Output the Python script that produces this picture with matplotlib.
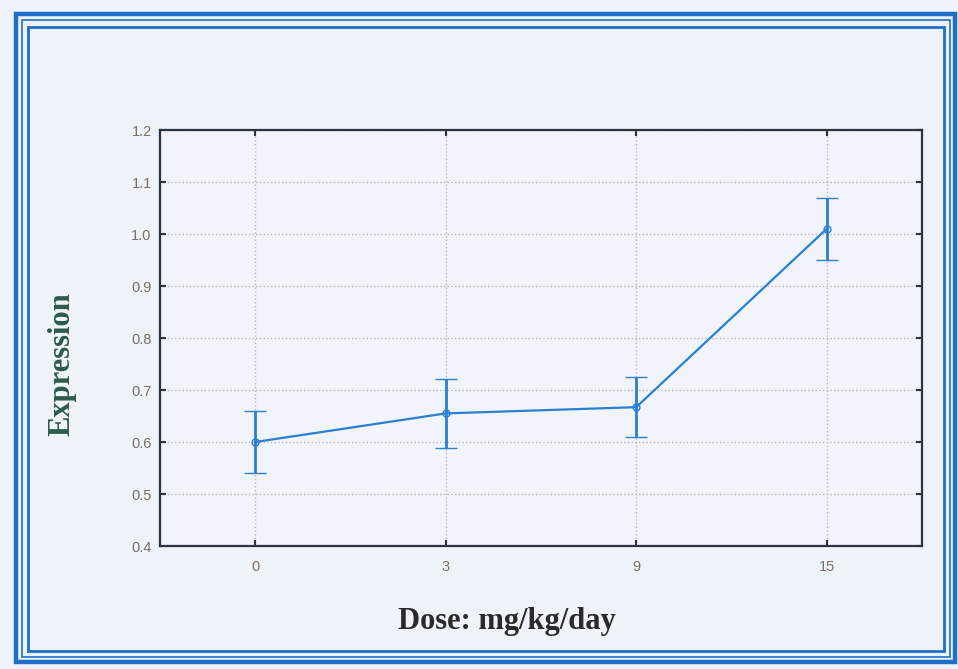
import numpy as np
import matplotlib.pyplot as plt
from matplotlib.patches import Rectangle

doses = ['0', '3', '9', '15']
expression = [0.600, 0.655, 0.667, 1.010]
err = [0.060, 0.066, 0.058, 0.060]

bg = '#eef2f9'
blue = '#2a7fd0'

fig = plt.figure(figsize=(9.58, 6.69), dpi=100)
fig.patch.set_facecolor(bg)

# decorative triple frame, in pixel coords
W, H = 958, 669
for x0, y0, x1, y1, lw in [(16, 14, 955, 662, 3.2), (22, 20, 950, 657, 1.2), (28, 27, 944, 651, 2.0)]:
    fig.patches.append(Rectangle((x0 / W, 1 - y1 / H), (x1 - x0) / W, (y1 - y0) / H,
                                 transform=fig.transFigure, fill=False,
                                 edgecolor='#1f6fc8', lw=lw))

ax = fig.add_axes([160 / W, 1 - 546 / H, (922 - 160) / W, (546 - 130) / H])
ax.set_facecolor('#f1f4fa')

x = np.arange(len(doses))
ax.errorbar(x, expression, yerr=err, color=blue, lw=1.6, elinewidth=2.0,
            capsize=8, capthick=2.0, marker='o', ms=5, mfc='none', mec=blue, mew=1.0)

ax.set_xlim(-0.5, 3.5)
ax.set_ylim(0.4, 1.2)
ax.set_xticks(x)
ax.set_xticklabels(doses)
ax.set_yticks(np.arange(0.4, 1.21, 0.1))
ax.set_yticklabels(['%.1f' % v for v in np.arange(0.4, 1.21, 0.1)])
ax.grid(True, color='#b8b8b8', linestyle=':', lw=1.0)

ax.tick_params(direction='in', length=4, width=1.5, color='#2b3340',
               top=True, right=True, labelsize=10.5, labelcolor='#7d7262')
ax.tick_params(axis='y', pad=6)
ax.tick_params(axis='x', pad=10)
for lab in ax.get_xticklabels() + ax.get_yticklabels():
    lab.set_family('Liberation Sans')
for s in ax.spines.values():
    s.set_color('#2b3340')
    s.set_linewidth(1.6)

fig.text(62 / W, 1 - 364 / H, 'Expression', rotation=90, ha='center', va='center',
         family='Liberation Serif', weight='bold', fontsize=22, color='#2d5a4a')
fig.text(507 / W, 1 - 622 / H, 'Dose: mg/kg/day', ha='center', va='center',
         family='Liberation Serif', weight='bold', fontsize=22, color='#2a2a2a')

fig.savefig('out.png', dpi=100, facecolor=bg)
